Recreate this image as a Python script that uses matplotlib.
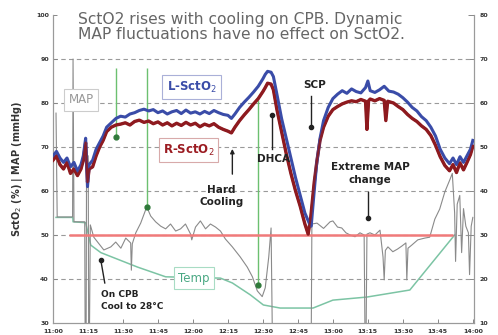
import numpy as np
import matplotlib
matplotlib.use("Agg")
import matplotlib.pyplot as plt

# ---------------- data ----------------
tick_minutes = [0, 15, 30, 45, 60, 75, 90, 105, 120, 135, 150, 165, 180]
tick_labels = ["11:00", "11:15", "11:30", "11:45", "12:00", "12:15", "12:30",
               "12:45", "13:00", "13:15", "13:30", "13:45", "14:00"]

l_t = [0, 1.5, 3, 4.5, 6, 7.5, 9, 10.5, 12, 13, 14, 14.8, 15.5, 17, 18.5, 20, 21.5, 23, 25, 27,
       29, 31, 33, 35, 37, 39, 41, 43, 45, 47, 49, 51, 53, 55, 57, 59, 61, 63, 65, 67, 69, 71, 73,
       75, 76.5, 78, 80, 82, 84, 86, 88, 90, 91, 92, 93.5, 94.5, 96, 98, 100, 102, 104, 106, 108,
       110, 110.7, 112, 113, 114.5, 116, 118, 120, 122, 124, 126, 128, 130, 132, 134, 135, 136,
       138, 140, 142, 144, 146, 148, 150, 152, 154, 156, 158, 160, 162, 164, 166, 168, 170,
       171.5, 173, 174.5, 176, 177.5, 179, 180]
l_sct = [68, 69, 67.5, 66.5, 67.5, 65.5, 66.5, 64.5, 66, 68, 72, 61, 66, 67, 69.5, 71, 72.5, 74.5,
         75.5, 76.5, 77, 76.8, 77.5, 77.8, 78.3, 78.6, 78.2, 78.5, 77.8, 78.2, 77.5, 78, 78.3, 77.6,
         78.4, 77.7, 78, 77.5, 78.1, 77.6, 78.3, 77.8, 77.4, 77.2, 76.5, 77.5, 79, 80.2, 81.3, 82.5,
         83.8, 85.5, 86.5, 87.2, 87, 86, 82, 76.5, 72, 67.5, 63, 59, 55, 52.5, 52, 60, 66, 72, 76,
         79, 81, 82, 82.8, 82.2, 83.2, 82.6, 82.3, 83.5, 85, 82.8, 82.4, 83, 83.8, 82.7, 82.5, 82,
         81.2, 80.2, 79, 78.2, 76.9, 76, 74.5, 72.5, 69.5, 67.5, 66.2, 67.5, 66, 67.8, 66.5, 68,
         69.5, 71.5]

r_t = [0, 1.5, 3, 4.5, 6, 7.5, 9, 10.5, 12, 13, 14, 14.8, 15.5, 17, 18.5, 20, 21.5, 23, 25, 27,
       29, 31, 33, 35, 37, 39, 41, 43, 45, 47, 49, 51, 53, 55, 57, 59, 61, 63, 65, 67, 69, 71, 73,
       75, 76.5, 78, 80, 82, 84, 86, 88, 90, 91, 92, 93.5, 94.5, 96, 98, 100, 102, 104, 106, 108,
       109.4, 110.5, 112, 113.2, 114.5, 116, 118, 120, 122, 124, 126, 128, 130, 132, 134, 134.6,
       135.3, 136, 138, 140, 142, 142.7, 143.5, 146, 148, 150, 152, 154, 156, 158, 160, 162, 164,
       166, 168, 170, 171.5, 173, 174.5, 176, 177.5, 179, 180]
r_sct = [67, 68, 66, 65, 66.5, 64, 65, 63.5, 65, 67, 71, 62, 65, 65.5, 68, 70, 71.5, 73.5, 74.5,
         75, 75.2, 75.5, 75, 75.8, 76.1, 75.6, 75.9, 75.3, 75.7, 75, 75.5, 74.8, 75.4, 74.9, 75.6,
         75, 75.4, 74.6, 75.2, 74.8, 75.3, 74.5, 74, 73.6, 73.2, 74.5, 76, 77.3, 78.5, 79.8, 81,
         82.6, 83.5, 84.5, 84.3, 83, 78.5, 73.5, 68.5, 64, 60, 56.5, 52.5, 50.2, 54, 62, 67, 71.5,
         74.5, 77, 78.5, 79.2, 79.8, 80.2, 80.5, 80.3, 80.8, 80.4, 74, 80.5, 80.9, 80.5, 81, 80.6,
         76, 80.4, 80, 79.2, 78.5, 77.4, 76.5, 75.8, 74.8, 74, 72.6, 70.4, 67.8, 65.8, 64.6, 66,
         64.2, 66.4, 64.8, 66.5, 68.3, 70.2]

map_t = [1.3, 1.8, 8.4, 8.6, 9.0, 13.6, 13.8, 14.2, 14.4, 15.1, 15.3, 15.6, 16, 17.5, 21.8, 24.8,
         26.9, 29.1, 31.2, 33.3, 33.6, 34, 35.5, 37.6, 40.2, 41.9, 44, 46.2, 48.3, 50.4, 52.6, 54.7,
         56.8, 59, 59.5, 61.1, 63.2, 65.4, 67.5, 69.7, 71.8, 73.9, 76.9, 80.3, 83.3, 85.5, 87.6,
         89.7, 91, 92.5, 93.5, 94.1, 94.2, 110.6, 110.7, 111, 113.2, 116, 118.8, 120, 122, 123.8,
         125.6, 127.4, 129.5, 131.6, 133.4, 133.8, 134.2, 134.6, 135.9, 138, 140.2, 141.5, 142,
         142.5, 143.6, 145.7, 147.7, 149.6, 151.3, 151.7, 152.2, 153.8, 156.4, 159.4, 161.5, 163.7,
         165.8, 168, 170.1, 171.2, 172.2, 172.6, 173.3, 174.4, 175.2, 176, 177, 178.1, 178.6,
         179.3, 180]
map_v = [77.7, 54.1, 54.1, 90, 53, 53, 25, 25, 68, 68, 25, 25, 52.3, 49.5, 46.6, 47.3, 48.4, 47,
         49.3, 48.2, 42, 48, 50.5, 52.7, 56.4, 54.3, 53, 52, 51.4, 52.5, 50.9, 51.4, 52.5, 50.2,
         48.9, 51.8, 53.2, 51.4, 52.5, 51.8, 50.9, 49.1, 47.3, 45, 42.7, 40.5, 37.3, 36, 38, 45,
         51.6, 25, np.nan, np.nan, 25, 52.5, 52.7, 51.5, 53, 53.2, 51.8, 51.6, 50.5, 50, 49.6,
         50.5, 50, 25, 25, 50.2, 50.5, 50, 51.1, 45, 39.8, 46.5, 47.3, 46.2, 46.8, 47.5, 48.2,
         39.8, 47, 47.7, 48.9, 49.3, 49.5, 53.6, 55.9, 59.8, 62.5, 64, 55, 44, 57, 59, 46, 56, 52,
         50.5, 41, 52, 54]

temp_t = [1.3, 8.5, 8.6, 14, 16.2, 20.5, 36.3, 48.3, 71.8, 76.9, 84.6, 90.2, 97.4, 111.5, 120,
          134.6, 153, 172.2]
temp_c = [34, 34, 33, 32.8, 27.7, 26, 22.7, 20.5, 20.2, 19.1, 16.4, 14.1, 13.4, 13.4, 15.2, 15.9,
          17.5, 30]

threshold = 50
threshold_span = [6.8, 171.4]

# green event markers: time, top value, bottom value
event_t = [26.9, 40.2, 88.0]
event_top = [88, 88, 80.7]
event_bottom = [72.3, 56.4, 38.6]

# ---------------- figure ----------------
fig = plt.figure(figsize=(4.98, 3.35), dpi=100)
ax = fig.add_axes([0.1064, 0.0358, 0.8454, 0.9194])
ax2 = ax.twinx()
ax.set_zorder(ax2.get_zorder() + 1)
ax.patch.set_visible(False)

ax.set_xlim(0, 180.5)
ax.set_ylim(30, 100)
ax2.set_ylim(10, 80)

grid_c = "#9a9a9a"
for a in (ax, ax2):
    for s in a.spines.values():
        s.set_color("#9a9a9a")
        s.set_linewidth(0.8)
    a.spines["top"].set_visible(False)

ax.set_yticks(np.arange(30, 101, 10))
ax2.set_yticks(np.arange(10, 81, 10))
ax.set_xticks(tick_minutes)
ax.set_xticklabels(tick_labels)
ax.tick_params(axis="both", labelsize=4.5, length=3, width=0.7, color="#888",
               labelcolor="#333", direction="in", pad=3)
ax.tick_params(axis="x", pad=4)
ax2.tick_params(axis="y", labelsize=4.5, length=4, width=0.7, color="#888",
                labelcolor="#333", direction="in", pad=4)
for lab in ax.get_yticklabels() + ax2.get_yticklabels() + ax.get_xticklabels():
    lab.set_fontweight("bold")

ax.yaxis.grid(True, color=grid_c, linestyle=(0, (4, 3)), linewidth=0.8)
gl = ax.get_ygridlines()
gl[0].set_visible(False)
gl[-1].set_visible(False)
ax.set_axisbelow(True)

ax.set_ylabel("SctO$_2$ (%) | MAP (mmHg)", fontsize=7, fontweight="bold", color="#333",
              labelpad=8)

# temperature on right axis
ax2.plot(temp_t, temp_c, color="#7cc4a4", lw=1.1)

# MAP
ax.plot(map_t, map_v, color="#8a8a8a", lw=0.8, zorder=2)

# threshold
ax.hlines(threshold, threshold_span[0], threshold_span[1], color="#f07a7a", lw=1.8, zorder=3)

# events
ax.vlines(event_t, event_bottom, event_top, color="#6cc070", lw=1.0, zorder=2)
ax.plot(event_t, event_bottom, "o", color="#2f7a3a", ms=3.5, zorder=4)

# SctO2
ax.plot(r_t, r_sct, color="#8e1a1f", lw=2.4, zorder=5)
ax.plot(l_t, l_sct, color="#3a4ca8", lw=2.2, zorder=5)
ax.plot(r_t, r_sct, color="#8e1a1f", lw=1.6, zorder=6, alpha=0.9)

# text
ax.text(10.7, 97.2, "SctO2 rises with cooling on CPB. Dynamic\nMAP fluctuations have no effect on SctO2.",
        fontsize=11.2, color="#666", ha="left", va="center", linespacing=1.0, zorder=7)

box = dict(boxstyle="square,pad=0.35", fc="white", lw=0.8)
ax.text(12, 80.7, "MAP", fontsize=8.5, color="#999", ha="center", va="center",
        bbox=dict(box, ec="#cccccc"), zorder=7)
ax.text(59.4, 83.6, "L-SctO$_2$", fontsize=8.5, color="#3a4ca8", ha="center", va="center",
        fontweight="bold", bbox=dict(box, ec="#aab0d8"), zorder=7)
ax.text(58.1, 69.3, "R-SctO$_2$", fontsize=8.5, color="#9b1c22", ha="center", va="center",
        fontweight="bold", bbox=dict(box, ec="#d8aaaa"), zorder=7)
ax.text(60.3, 40.2, "Temp", fontsize=8.5, color="#4aa883", ha="center", va="center",
        bbox=dict(box, ec="#a8dcc4"), zorder=7)

ax.text(72.2, 58.9, "Hard\nCooling", fontsize=7.5, fontweight="bold", color="#222",
        ha="center", va="center", linespacing=1.3, zorder=7)
ax.annotate("", xy=(76.9, 70.2), xytext=(76.9, 63.2),
            arrowprops=dict(arrowstyle="-|>", color="#222", lw=1.0, mutation_scale=6), zorder=7)

ax.text(94.4, 67.3, "DHCA", fontsize=7.5, fontweight="bold", color="#222",
        ha="center", va="center", zorder=7)
ax.plot([94.0, 94.0], [69.5, 77.3], color="#222", lw=1.0, zorder=7)
ax.plot([94.0], [77.3], "o", color="#222", ms=3, zorder=7)

ax.text(112, 84.1, "SCP", fontsize=7.5, fontweight="bold", color="#222",
        ha="center", va="center", zorder=7)
ax.plot([110.7, 110.7], [81.6, 74.5], color="#222", lw=1.0, zorder=7)
ax.plot([110.7], [74.5], "o", color="#222", ms=3, zorder=7)

ax.text(135.9, 64.0, "Extreme MAP\nchange", fontsize=7.5, fontweight="bold", color="#222",
        ha="center", va="center", linespacing=1.3, zorder=7)
ax.plot([135.0, 135.0], [59.8, 53.9], color="#222", lw=1.0, zorder=7)
ax.plot([135.0], [53.9], "o", color="#222", ms=3, zorder=7)

ax.text(20.5, 35.2, "On CPB\nCool to 28\u00b0C", fontsize=6.5, fontweight="bold", color="#222",
        ha="left", va="center", linespacing=1.4, zorder=7)
ax.plot([20.5, 22.2], [44.3, 39.1], color="#222", lw=1.0, zorder=7)
ax.plot([20.5], [44.3], "o", color="#222", ms=3, zorder=7)

fig.savefig("out.png", dpi=100)
